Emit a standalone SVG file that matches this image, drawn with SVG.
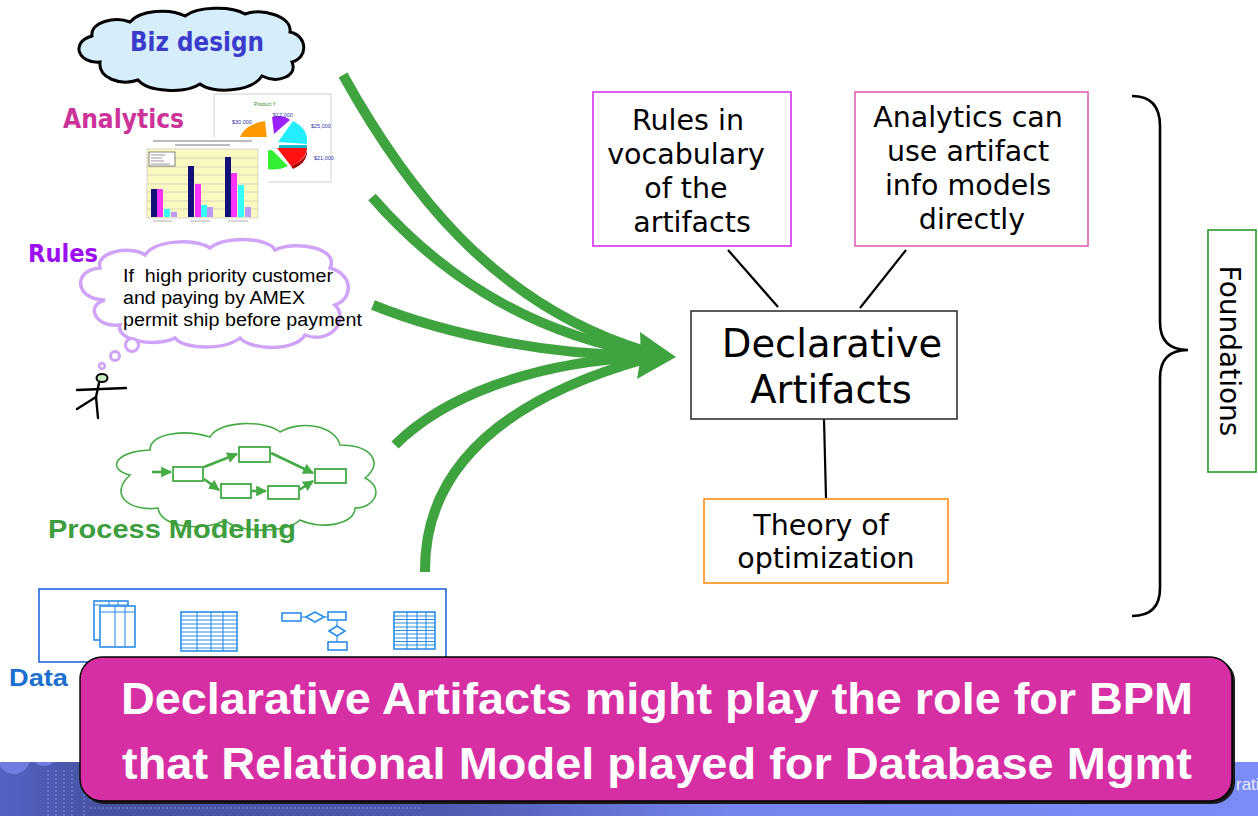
<svg xmlns="http://www.w3.org/2000/svg" width="1258" height="816" viewBox="0 0 1258 816">
  <defs>
    <style>
      .dv { font-family: "DejaVu Sans", Verdana, sans-serif; }
      .ar { font-family: "Liberation Sans", Arial, sans-serif; }
      .b { font-weight: bold; }
      .box { fill: #ffffff; stroke-width: 1.6; }
      .flow { fill: none; stroke: #3fa33f; stroke-width: 10; stroke-linecap: butt; }
      .link { stroke: #000000; stroke-width: 2.2; fill: none; }
      .pf { fill: none; stroke: #44aa44; stroke-width: 2.6; }
      .pbox { fill: #ffffff; stroke: #44aa44; stroke-width: 1.8; }
      .blue { fill: #ffffff; stroke: #2a8de8; stroke-width: 1.6; }
      .bl { stroke: #2a8de8; stroke-width: 1.1; }
      .bt { fill: #ffffff; font-family: "Liberation Sans", Arial, sans-serif; font-weight: bold; font-size: 44px; }
    </style>
    <marker id="parr" viewBox="0 0 10 10" refX="9" refY="5" markerWidth="4.2" markerHeight="4.2" orient="auto" markerUnits="strokeWidth">
      <path d="M0,0 L10,5 L0,10 Z" fill="#44aa44"/>
    </marker>
    <linearGradient id="footer" x1="0" y1="0" x2="1" y2="0">
      <stop offset="0" stop-color="#5462c4"/>
      <stop offset="0.08" stop-color="#46529f"/>
      <stop offset="0.35" stop-color="#4e5aae"/>
      <stop offset="0.58" stop-color="#7584ee"/>
      <stop offset="1" stop-color="#7b8bf8"/>
    </linearGradient>
    <clipPath id="footerClip">
      <rect x="0" y="762" width="1258" height="54"/>
    </clipPath>
  </defs>

  <rect width="1258" height="816" fill="#ffffff"/>

  <!-- footer strip -->
  <g id="footer">
    <rect x="0" y="762" width="1258" height="54" fill="url(#footer)"/>
    <g clip-path="url(#footerClip)">
      <circle cx="14" cy="758" r="16" fill="#6f7de0"/>
      <circle cx="44" cy="752" r="14" fill="#6f7de0"/>
      <g stroke="#8fa0ff" stroke-width="1" stroke-dasharray="2 2" opacity="0.7">
        <line x1="48" y1="770" x2="48" y2="816"/>
        <line x1="56" y1="770" x2="56" y2="816"/>
        <line x1="64" y1="770" x2="64" y2="816"/>
        <line x1="72" y1="770" x2="72" y2="816"/>
        <line x1="84" y1="790" x2="84" y2="816"/>
        <line x1="90" y1="800" x2="660" y2="800"/>
        <line x1="90" y1="808" x2="420" y2="808"/>
      </g>
    </g>
    <text x="1236" y="790" class="ar" font-size="17" fill="#e8ecff">rati</text>
  </g>

  <!-- Biz design -->
  <g id="biz-design">
    <path d="M100,62 C78,64 70,42 92,36 C90,22 115,16 130,22 C140,10 170,8 185,16 C198,6 232,6 245,14 C262,8 292,16 290,32 C308,36 308,58 292,62 C298,76 278,84 262,76 C252,92 212,94 200,84 C185,94 148,92 138,80 C120,86 98,78 100,62 Z" fill="#d6eefc" stroke="#000000" stroke-width="3"/>
    <text x="130" y="51" class="dv b" font-size="26" textLength="134" lengthAdjust="spacingAndGlyphs" fill="#3b3bcc">Biz design</text>
  </g>

  <!-- Analytics -->
  <g id="analytics">
    <text x="63" y="128" class="dv b" font-size="26" textLength="121" lengthAdjust="spacingAndGlyphs" fill="#cc3399">Analytics</text>
    <!-- pie chart -->
    <rect x="214" y="94" width="117" height="88" fill="#ffffff" stroke="#d0d0d0" stroke-width="1"/>
    <text x="265" y="106" class="ar" font-size="5" fill="#2a8a2a" text-anchor="middle">Product Y</text>
    <path d="M267,139 L239,141 Q242,125 265,121 Z" fill="#ff9900"/>
    <path d="M274,134 L272,117 Q283,114 290,120 Z" fill="#9922ff"/>
    <path d="M278,142 L293,121 Q309,129 307,144 Z" fill="#22eeff"/>
    <path d="M279,145 L307,145 L307,150 L279,150 Z" fill="#19b8c8"/>
    <path d="M277,148 L307,148 Q306,160 291,166 Z" fill="#ff1111"/>
    <path d="M291,166 Q306,160 307,150 L307,154 Q305,164 293,169 Z" fill="#aa0000"/>
    <path d="M272,150 L288,166 Q276,172 262,168 L262,151 Z" fill="#33ee33"/>
    <g class="ar" font-size="5.5" fill="#3333aa">
      <text x="232" y="124">$30,000</text>
      <text x="273" y="117">$12,000</text>
      <text x="311" y="128">$25,000</text>
      <text x="314" y="160">$21,000</text>
    </g>
    <!-- bar chart -->
    <rect x="135" y="137" width="133" height="87" fill="#ffffff"/>
    <g stroke="#555555" stroke-width="0.8">
      <line x1="153" y1="141" x2="252" y2="141"/>
      <line x1="175" y1="145" x2="230" y2="145"/>
    </g>
    <rect x="147" y="149" width="111" height="69" fill="#fbf9c2" stroke="#bbbbbb" stroke-width="0.6"/>
    <g stroke="#bbbbaa" stroke-width="0.5">
      <line x1="147" y1="158" x2="258" y2="158"/>
      <line x1="147" y1="167" x2="258" y2="167"/>
      <line x1="147" y1="175" x2="258" y2="175"/>
      <line x1="147" y1="184" x2="258" y2="184"/>
      <line x1="147" y1="192" x2="258" y2="192"/>
      <line x1="147" y1="201" x2="258" y2="201"/>
      <line x1="147" y1="209" x2="258" y2="209"/>
    </g>
    <rect x="149" y="152" width="26" height="14" fill="#ffffff" stroke="#333333" stroke-width="0.6"/>
    <g stroke="#555555" stroke-width="0.6">
      <line x1="151" y1="155" x2="165" y2="155"/>
      <line x1="151" y1="158" x2="162" y2="158"/>
      <line x1="151" y1="161" x2="164" y2="161"/>
      <line x1="151" y1="164" x2="170" y2="164"/>
    </g>
    <g>
      <rect x="151" y="189" width="6" height="28" fill="#111177"/>
      <rect x="157" y="189" width="6" height="28" fill="#ff33ff"/>
      <rect x="164" y="209" width="6" height="8" fill="#33ffff"/>
      <rect x="171" y="212" width="6" height="5" fill="#bb99ff"/>
      <rect x="188" y="166" width="6" height="51" fill="#111177"/>
      <rect x="195" y="184" width="6" height="33" fill="#ff33ff"/>
      <rect x="201" y="205" width="6" height="12" fill="#33ffff"/>
      <rect x="207" y="207" width="6" height="10" fill="#bb99ff"/>
      <rect x="225" y="157" width="6" height="60" fill="#111177"/>
      <rect x="231" y="173" width="6" height="44" fill="#ff33ff"/>
      <rect x="238" y="185" width="6" height="32" fill="#33ffff"/>
      <rect x="245" y="207" width="6" height="10" fill="#bb99ff"/>
    </g>
    <g stroke="#777777" stroke-width="0.6">
      <line x1="153" y1="221" x2="172" y2="221"/>
      <line x1="190" y1="221" x2="210" y2="221"/>
      <line x1="228" y1="221" x2="248" y2="221"/>
    </g>
  </g>

  <!-- Rules -->
  <g id="rules">
    <text x="28" y="262" class="dv b" font-size="25" textLength="70" lengthAdjust="spacingAndGlyphs" fill="#9a10f0">Rules</text>
    <path d="M105,300 C75,300 72,270 100,268 C95,252 130,245 145,255 C155,240 195,238 210,248 C225,235 270,238 275,250 C295,240 340,248 330,268 C355,275 352,300 335,305 C350,320 330,345 305,335 C295,352 250,350 240,338 C225,350 185,350 175,338 C155,348 115,340 120,325 C95,328 85,305 105,300 Z" fill="#ffffff" stroke="#cfa3f7" stroke-width="3.5"/>
    <circle cx="132" cy="345" r="6.5" fill="#ffffff" stroke="#cfa3f7" stroke-width="3"/>
    <circle cx="115" cy="356" r="4.5" fill="#ffffff" stroke="#cfa3f7" stroke-width="3"/>
    <circle cx="102" cy="366" r="2.8" fill="#ffffff" stroke="#cfa3f7" stroke-width="2.5"/>
    <g class="ar" font-size="18" fill="#000000">
      <text x="123" y="282" xml:space="preserve" textLength="210" lengthAdjust="spacingAndGlyphs">If  high priority customer</text>
      <text x="123" y="304" textLength="182" lengthAdjust="spacingAndGlyphs">and paying by AMEX</text>
      <text x="123" y="326" textLength="239" lengthAdjust="spacingAndGlyphs">permit ship before payment</text>
    </g>
    <!-- stick figure -->
    <g stroke="#000000" stroke-width="2.4" fill="none" stroke-linecap="round">
      <ellipse cx="102" cy="378" rx="5.5" ry="4" fill="#c8ecc0" stroke-width="2"/>
      <line x1="77" y1="390" x2="126" y2="388"/>
      <polyline points="99,383 96,397 77,409"/>
      <line x1="96" y1="397" x2="98" y2="418"/>
    </g>
  </g>

  <!-- Process Modeling -->
  <g id="process-modeling">
    <path d="M130,475 C108,470 112,452 150,450 C150,435 180,428 210,437 C220,420 265,420 280,432 C300,420 335,425 340,445 C370,445 385,462 365,478 C385,488 375,508 355,508 C355,525 320,530 300,520 C285,535 235,532 225,520 C205,532 160,528 158,508 C130,512 108,495 130,475 Z" fill="#ffffff" stroke="#44aa44" stroke-width="1.6"/>
    <line x1="152" y1="472" x2="171" y2="472" class="pf" marker-end="url(#parr)"/>
    <rect x="173" y="467" width="30" height="14" class="pbox"/>
    <rect x="239" y="447" width="31" height="15" class="pbox"/>
    <rect x="221" y="484" width="30" height="14" class="pbox"/>
    <rect x="268" y="486" width="31" height="13" class="pbox"/>
    <rect x="315" y="469" width="31" height="14" class="pbox"/>
    <line x1="204" y1="467" x2="237" y2="454" class="pf" marker-end="url(#parr)"/>
    <line x1="271" y1="453" x2="313" y2="473" class="pf" marker-end="url(#parr)"/>
    <line x1="204" y1="479" x2="219" y2="490" class="pf" marker-end="url(#parr)"/>
    <line x1="251" y1="491" x2="266" y2="491" class="pf" marker-end="url(#parr)"/>
    <line x1="299" y1="490" x2="313" y2="481" class="pf" marker-end="url(#parr)"/>
    <text x="48" y="538" class="ar b" font-size="25" textLength="248" lengthAdjust="spacingAndGlyphs" fill="#3d9e3d">Process Modeling</text>
  </g>

  <!-- Data -->
  <g id="data">
    <rect x="39" y="589" width="407" height="73" fill="#ffffff" stroke="#2266dd" stroke-width="1.6"/>
    <!-- stacked tables -->
    <rect x="94" y="601" width="34" height="39" class="blue"/>
    <line x1="94" y1="605" x2="128" y2="605" class="bl"/>
    <line x1="109" y1="601" x2="109" y2="605" class="bl"/>
    <line x1="118" y1="601" x2="118" y2="605" class="bl"/>
    <rect x="100" y="606" width="35" height="41" class="blue"/>
    <line x1="100" y1="612" x2="135" y2="612" class="bl"/>
    <line x1="115" y1="606" x2="115" y2="647" class="bl"/>
    <line x1="125" y1="606" x2="125" y2="647" class="bl"/>
    <!-- grid table -->
    <rect x="181" y="612" width="56" height="39" class="blue"/>
    <g class="bl">
      <line x1="181" y1="616" x2="237" y2="616"/>
      <line x1="181" y1="620" x2="237" y2="620"/>
      <line x1="181" y1="624" x2="237" y2="624"/>
      <line x1="181" y1="628" x2="237" y2="628"/>
      <line x1="181" y1="632" x2="237" y2="632"/>
      <line x1="181" y1="636" x2="237" y2="636"/>
      <line x1="181" y1="640" x2="237" y2="640"/>
      <line x1="181" y1="644" x2="237" y2="644"/>
      <line x1="181" y1="648" x2="237" y2="648"/>
      <line x1="197" y1="612" x2="197" y2="651"/>
      <line x1="211" y1="612" x2="211" y2="651"/>
      <line x1="223" y1="612" x2="223" y2="651"/>
    </g>
    <!-- flow schema -->
    <rect x="282" y="613" width="19" height="8" class="blue"/>
    <line x1="301" y1="617" x2="306" y2="617" class="bl"/>
    <polygon points="306,617 315,612 324,617 315,622" class="blue"/>
    <line x1="324" y1="617" x2="328" y2="617" class="bl"/>
    <rect x="328" y="612" width="18" height="8" class="blue"/>
    <line x1="337" y1="620" x2="337" y2="626" class="bl"/>
    <polygon points="329,631 337,626 345,631 337,636" class="blue"/>
    <line x1="337" y1="636" x2="337" y2="642" class="bl"/>
    <rect x="328" y="642" width="19" height="8" class="blue"/>
    <!-- grid table -->
    <rect x="394" y="612" width="41" height="37" class="blue"/>
    <g class="bl">
      <line x1="394" y1="616" x2="435" y2="616"/>
      <line x1="394" y1="619.5" x2="435" y2="619.5"/>
      <line x1="394" y1="623" x2="435" y2="623"/>
      <line x1="394" y1="627" x2="435" y2="627"/>
      <line x1="394" y1="630.5" x2="435" y2="630.5"/>
      <line x1="394" y1="634" x2="435" y2="634"/>
      <line x1="394" y1="638" x2="435" y2="638"/>
      <line x1="394" y1="641.5" x2="435" y2="641.5"/>
      <line x1="394" y1="645" x2="435" y2="645"/>
      <line x1="407" y1="612" x2="407" y2="649"/>
      <line x1="417" y1="612" x2="417" y2="649"/>
      <line x1="426" y1="612" x2="426" y2="649"/>
    </g>
    <text x="9" y="686" class="ar b" font-size="24" textLength="59" lengthAdjust="spacingAndGlyphs" fill="#1a6fd0">Data</text>
  </g>

  <!-- connectors -->
  <g id="connectors">
    <path class="flow" d="M343,75 C403,183 490,304 645,351"/>
    <path class="flow" d="M372,197 C432,266 520,331 645,353"/>
    <path class="flow" d="M373,305 C450,336 555,356 645,355"/>
    <path class="flow" d="M395,445 C442,398 530,362 645,357"/>
    <path class="flow" d="M425,572 C424,470 500,400 645,359"/>
    <polygon points="640,332 676,357 637,379 641,356" fill="#3fa33f"/>
    <line class="link" x1="728" y1="250" x2="778" y2="307"/>
    <line class="link" x1="906" y1="250" x2="860" y2="308"/>
    <line class="link" x1="824" y1="419" x2="826" y2="498"/>
  </g>

  <!-- Rules in vocabulary of the artifacts -->
  <g id="rules-vocabulary">
    <rect x="593" y="92" width="198" height="154" class="box" stroke="#d633f0"/>
    <g class="dv" font-size="28.5" fill="#000000" text-anchor="middle">
      <text x="688" y="130">Rules in</text>
      <text x="686" y="164">vocabulary</text>
      <text x="686" y="198">of the</text>
      <text x="692" y="232">artifacts</text>
    </g>
  </g>

  <!-- Analytics can use artifact info models directly -->
  <g id="analytics-info-models">
    <rect x="855" y="92" width="233" height="154" class="box" stroke="#e060b0"/>
    <g class="dv" font-size="28.5" fill="#000000" text-anchor="middle">
      <text x="968" y="127">Analytics can</text>
      <text x="968" y="161">use artifact</text>
      <text x="968" y="195">info models</text>
      <text x="972" y="229">directly</text>
    </g>
  </g>

  <!-- Declarative Artifacts -->
  <g id="declarative-artifacts">
    <rect x="691" y="311" width="266" height="108" class="box" stroke="#333333"/>
    <g class="dv" font-size="38.5" fill="#000000" text-anchor="middle">
      <text x="832" y="357">Declarative</text>
      <text x="831" y="403">Artifacts</text>
    </g>
  </g>

  <!-- Theory of optimization -->
  <g id="theory-optimization">
    <rect x="704" y="499" width="244" height="84" class="box" stroke="#ff8c1a"/>
    <g class="dv" font-size="28.5" fill="#000000" text-anchor="middle">
      <text x="821" y="535">Theory of</text>
      <text x="826" y="568">optimization</text>
    </g>
  </g>

  <!-- Foundations brace and label -->
  <g id="foundations">
    <path d="M1132,96 Q1160,96 1160,126 L1160,322 Q1160,350 1188,350 Q1160,350 1160,378 L1160,588 Q1160,616 1132,616" fill="none" stroke="#000000" stroke-width="2.6"/>
    <rect x="1208" y="230" width="48" height="242" class="box" stroke="#2a9a2a"/>
    <text x="0" y="0" class="dv" font-size="28" fill="#000000" text-anchor="middle" dominant-baseline="central" transform="translate(1229,351) rotate(90)">Foundations</text>
  </g>

  <!-- Banner -->
  <g id="banner">
    <rect x="82" y="659" width="1153" height="145" rx="22" fill="#1a1a1a"/>
    <rect x="80" y="657" width="1152" height="144" rx="22" fill="#d62ea3" stroke="#000000" stroke-width="1.4"/>
    <text x="121" y="714" class="bt" textLength="1072" lengthAdjust="spacingAndGlyphs">Declarative Artifacts might play the role for BPM</text>
    <text x="122" y="779" class="bt" textLength="1070" lengthAdjust="spacingAndGlyphs">that Relational Model played for Database Mgmt</text>
  </g>
</svg>
